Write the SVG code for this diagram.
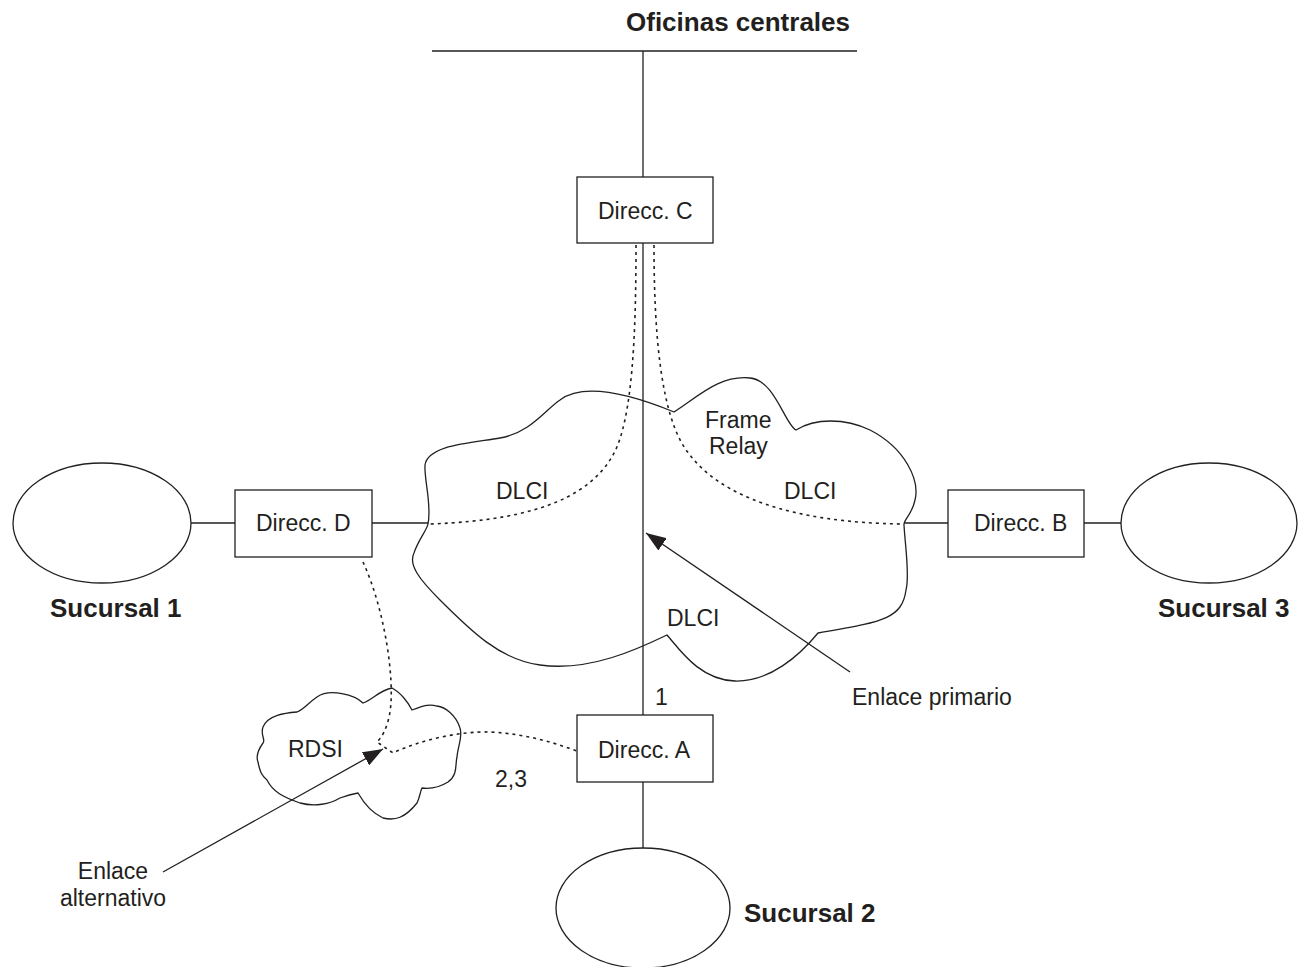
<svg xmlns="http://www.w3.org/2000/svg" width="1299" height="967" viewBox="0 0 1299 967">
  <style>
    .ln { fill: none; stroke: #231f20; stroke-width: 1.3; }
    .dot { fill: none; stroke: #231f20; stroke-width: 1.6; stroke-dasharray: 3 4; }
    .box { fill: #ffffff; stroke: #231f20; stroke-width: 1.3; }
    .t { font-family: "Liberation Sans", Arial, sans-serif; font-size: 23px; fill: #231f20; }
    .b { font-family: "Liberation Sans", Arial, sans-serif; font-size: 26px; font-weight: bold; fill: #231f20; }
    .mid { text-anchor: middle; }
  </style>
  <defs>
    <marker id="arrow" markerWidth="20" markerHeight="15" refX="20" refY="7.5" orient="auto" markerUnits="userSpaceOnUse" viewBox="0 0 20 15">
      <path d="M0,0 L20,7.5 L0,15 Z" fill="#231f20"/>
    </marker>
  </defs>
  <rect width="1299" height="967" fill="#ffffff"/>

  <!-- head office bus -->
  <g id="oficinas">
    <line class="ln" x1="432" y1="51" x2="857" y2="51"/>
    <text class="b" x="626" y="31">Oficinas centrales</text>
  </g>

  <!-- Frame Relay cloud -->
  <g id="frame-relay">
    <path class="ln" d="M428,524 C432,505 424,480 425,465 C428,445 470,443 500,438 C530,433 545,410 560,400 C580,385 620,390 674,412 C700,395 720,375 750,378 C775,380 785,425 796,430 C815,418 845,418 870,430 C905,448 920,480 915,500 C912,515 903,520 904,525 C905,545 910,575 906,590 C902,620 880,622 818,633 C800,655 770,682 735,681 C700,680 680,650 667,635 C640,648 590,672 540,665 C500,660 470,630 440,600 C420,580 408,565 414,553 C418,540 427,530 428,524 Z"/>
    <text class="t" x="705" y="428">Frame</text>
    <text class="t" x="709" y="454">Relay</text>
    <text class="t" x="496" y="499">DLCI</text>
    <text class="t" x="784" y="499">DLCI</text>
    <text class="t" x="667" y="626">DLCI</text>
  </g>

  <!-- RDSI cloud -->
  <g id="rdsi">
    <path class="ln" d="M392,688 C380,690 372,700 363,703 C355,695 330,688 317,697 C308,703 303,710 297,712 C285,713 268,715 263,727 C260,735 266,740 263,743 C258,750 256,757 258,762 C260,772 262,776 267,780 C273,792 283,797 300,803 C315,807 330,804 340,798 C348,795 352,794 358,793 C362,800 370,812 383,818 C395,821 405,818 417,803 C420,797 420,792 422,788 C430,789 440,787 448,782 C458,775 455,765 457,757 C458,745 463,737 460,728 C456,715 445,707 437,706 C430,704 425,705 412,710 C408,702 400,692 392,688 Z"/>
    <text class="t" x="288" y="757">RDSI</text>
  </g>

  <!-- routers -->
  <g id="direcc-c">
    <rect class="box" x="577" y="177" width="136" height="66"/>
    <text class="t" x="598" y="219">Direcc. C</text>
  </g>
  <g id="direcc-a">
    <rect class="box" x="577" y="715" width="136" height="67"/>
    <text class="t" x="598" y="758">Direcc. A</text>
  </g>
  <g id="direcc-d">
    <rect class="box" x="235" y="490" width="137" height="67"/>
    <text class="t" x="256" y="531">Direcc. D</text>
  </g>
  <g id="direcc-b">
    <rect class="box" x="948" y="490" width="136" height="67"/>
    <text class="t" x="974" y="531">Direcc. B</text>
  </g>

  <!-- branch offices -->
  <g id="sucursal-1">
    <ellipse class="ln" cx="102" cy="523" rx="89" ry="60"/>
    <text class="b" x="50" y="617">Sucursal 1</text>
  </g>
  <g id="sucursal-2">
    <ellipse class="ln" cx="643" cy="908" rx="87" ry="60"/>
    <text class="b" x="744" y="922">Sucursal 2</text>
  </g>
  <g id="sucursal-3">
    <ellipse class="ln" cx="1209" cy="523" rx="88" ry="60"/>
    <text class="b" x="1158" y="617">Sucursal 3</text>
  </g>

  <!-- links -->
  <g id="connectors">
    <line class="ln" x1="643" y1="51" x2="643" y2="177"/>
    <line class="ln" x1="643" y1="243" x2="643" y2="715"/>
    <line class="ln" x1="643" y1="782" x2="643" y2="848"/>
    <line class="ln" x1="191" y1="523" x2="235" y2="523"/>
    <line class="ln" x1="372" y1="523" x2="428" y2="523"/>
    <line class="ln" x1="904" y1="523" x2="948" y2="523"/>
    <line class="ln" x1="1084" y1="523" x2="1121" y2="523"/>

    <!-- DLCI virtual circuits -->
    <path class="dot" d="M636,245 C636,330 633,420 613,455 C592,492 545,520 430,524"/>
    <path class="dot" d="M654,245 C654,330 660,420 690,455 C720,495 790,523 904,524"/>

    <!-- backup path over RDSI -->
    <path class="dot" d="M363,562 C385,610 395,680 390,712 C387,730 381,738 377,742 L393,753 C420,740 460,731 490,732 C530,734 560,745 577,751"/>

    <line class="ln" x1="850" y1="672" x2="646" y2="533" marker-end="url(#arrow)"/>
    <line class="ln" x1="163" y1="872" x2="383" y2="749" marker-end="url(#arrow)"/>

    <text class="t" x="655" y="705">1</text>
    <text class="t" x="495" y="787">2,3</text>
    <text class="t" x="852" y="705">Enlace primario</text>
    <text class="t mid" x="113" y="879">Enlace</text>
    <text class="t mid" x="113" y="906">alternativo</text>
  </g>
</svg>
